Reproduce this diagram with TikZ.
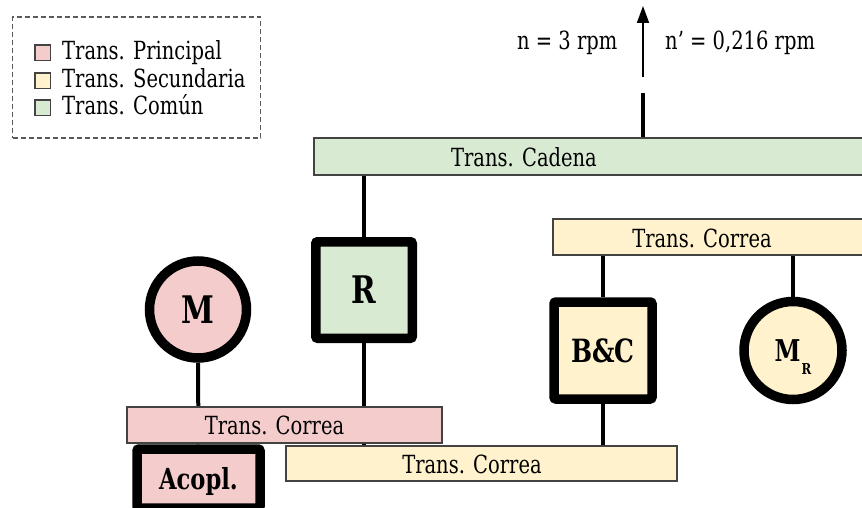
\documentclass[tikz,border=0pt]{standalone}
\usepackage{fontspec}
\setmainfont[FakeStretch=0.78]{DejaVu Serif}
\usetikzlibrary{arrows.meta,backgrounds}
\definecolor{pinkF}{HTML}{F4CCCC}
\definecolor{yellowF}{HTML}{FFF2CC}
\definecolor{greenF}{HTML}{D9EAD3}
\definecolor{edgeC}{HTML}{434343}
\definecolor{legC}{HTML}{595959}
\tikzset{
  bar/.style={draw=edgeC, line width=1.5pt, inner sep=0pt},
  lbl/.style={inner sep=0pt, font=\fontsize{25}{30}\selectfont},
  bigbox/.style={draw=black, line width=9.5pt, rounded corners=2pt, inner sep=0pt,
                 font=\bfseries},
  bigcirc/.style={circle, draw=black, line width=9.5pt, inner sep=0pt, font=\bfseries},
  swatch/.style={draw=edgeC, line width=1.5pt, minimum size=15.5pt, inner sep=0pt},
  conn/.style={line width=4pt, draw=black},
}
\begin{document}
\begin{tikzpicture}[x=1pt,y=-1pt]
\useasboundingbox (0,0) rectangle (862,508);
\clip (0,0) rectangle (862,508);
% legend
\node[draw=legC, line width=1.5pt, dash pattern=on 5pt off 3pt,
      minimum width=248pt, minimum height=121pt, inner sep=0pt] (leg) at (136.5,77.5) {};
\node[swatch, fill=pinkF] (s1) at (42.5,53) {};
\node[swatch, fill=yellowF] (s2) at (42.5,81) {};
\node[swatch, fill=greenF] (s3) at (42.5,108) {};
\node[lbl, anchor=base west] (t1) at (62,60) {Trans. Principal};
\node[lbl, anchor=base west] (t2) at (62,88) {Trans. Secundaria};
\node[lbl, anchor=base west] (t3) at (62,115) {Trans. Común};
% bars
\node[bar, fill=greenF, minimum width=600pt, minimum height=37pt] (cad) at (614,156.5) {};
\node[lbl, anchor=base] (cadT) at (524,166) {Trans. Cadena};
\node[bar, fill=yellowF, minimum width=360pt, minimum height=36pt] (ytop) at (733,237) {};
\node[lbl, anchor=base] (ytopT) at (702,247) {Trans. Correa};
\node[bar, fill=pinkF, minimum width=315pt, minimum height=36pt] (pk) at (284.5,425) {};
\node[lbl, anchor=base] (pkT) at (274.5,434) {Trans. Correa};
\node[bar, fill=yellowF, minimum width=391pt, minimum height=35pt] (ybot) at (481.5,463.5) {};
\node[lbl, anchor=base] (ybotT) at (472,473) {Trans. Correa};
% components
\node[bigbox, fill=greenF, minimum width=96.5pt, minimum height=96.5pt,
      font=\fontsize{38}{40}\selectfont\bfseries] (R) at (364,290) {R};
\node[bigcirc, fill=pinkF, minimum size=97pt,
      font=\fontsize{38}{40}\selectfont\bfseries] (M) at (198,309.5) {M};
\node[bigbox, fill=yellowF, minimum width=98pt, minimum height=97pt,
      font=\fontsize{32}{34}\selectfont\bfseries] (bc) at (603,350.5) {B\&C};
\node[bigcirc, fill=yellowF, minimum size=98pt,
      font=\fontsize{30}{32}\selectfont\bfseries] (mr) at (793,350.5)
      {M\kern1pt\smash{\raisebox{-13pt}{\fontsize{15}{15}\selectfont\bfseries R}}};
\node[bigbox, fill=pinkF, minimum width=123pt, minimum height=59pt, text depth=0pt,
      font=\fontsize{29}{30}\selectfont\bfseries] (ac) at (198.5,478.5) {Acopl.};
% output arrow
\coordinate (a1) at (643,93);
\coordinate (a2) at (643,77);
\coordinate (a3) at (643,6);
\node[lbl, anchor=base west] (nL) at (517,50) {n = 3 rpm};
\node[lbl, anchor=base west] (nR) at (665,50) {n’ = 0,216 rpm};
\begin{scope}[on background layer]
\draw[conn] (cad.south -| R.north) -- (R.north);
\draw[conn] (R.south) -- (R.south |- ybot.north);
\draw[conn] (M.south) -- (ac.north);
\draw[conn] (bc.north) -- (bc.north |- ytop.south);
\draw[conn] (bc.south) -- (bc.south |- ybot.north);
\draw[conn] (mr.north) -- (mr.north |- ytop.south);
\draw[conn] (cad.north -| a1) -- (a1);
\end{scope}
\draw[line width=1.8pt, -{Triangle[length=17pt,width=12pt]}] (a2) -- (a3);
\end{tikzpicture}
\end{document}
